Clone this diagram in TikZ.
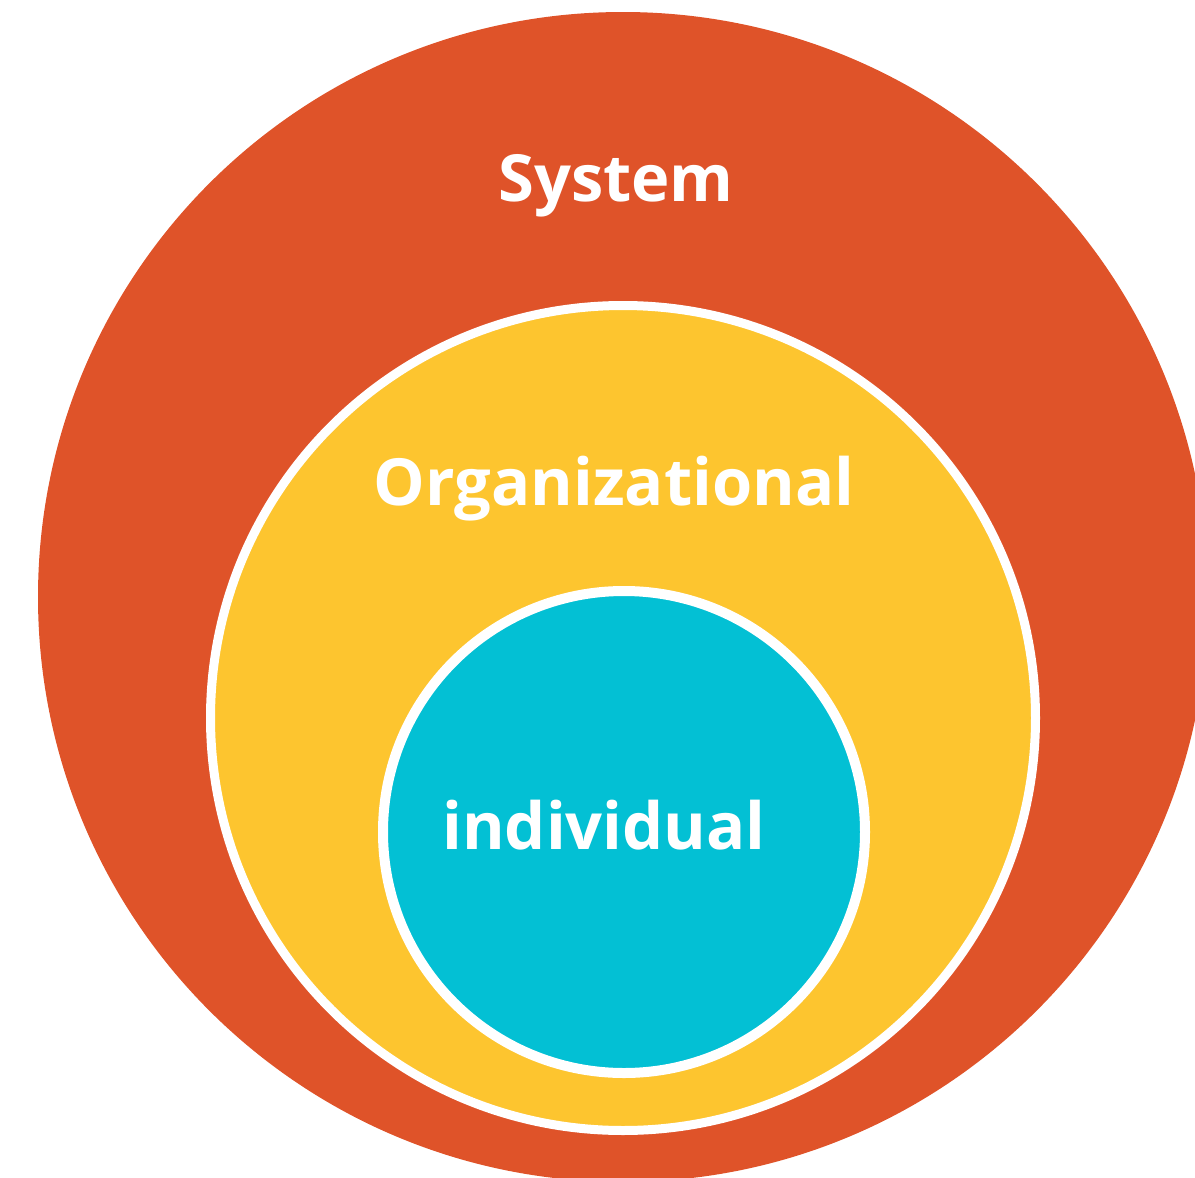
\documentclass[tikz,border=0pt]{standalone}
\usepackage{fontspec}
\setmainfont{Open Sans}
\usepackage{xcolor}
\usepackage{tikz}
\definecolor{sysorange}{RGB}{223,83,41}
\definecolor{orgyellow}{RGB}{253,197,47}
\definecolor{indblue}{RGB}{3,192,212}
\tikzset{
  level/.style={circle, inner sep=0pt, outer sep=0pt},
  levellabel/.style={text=white, inner sep=0pt, anchor=base,
    font=\bfseries\fontsize{32.5}{36}\selectfont}
}
\begin{document}
\begin{tikzpicture}[x=0.5pt, y=-0.5pt]
        \useasboundingbox (0,0) rectangle (1195,1178);
        \clip (0,0) rectangle (1195,1178);
        % nested levels
        \node[level, fill=sysorange, minimum size=585pt] (system) at (623,597) {};
        \node[level, fill=orgyellow, draw=white, line width=4.5pt, minimum size=412.5pt] (org) at (623,718) {};
        \node[level, fill=indblue, draw=white, line width=5pt, minimum size=241pt] (individual) at (624,832) {};
        % labels
        \node[levellabel] (systemtext) at (616,201) {System};
        \node[levellabel] (orgtext) at (614,505) {Organizational};
        \node[levellabel] (individualtext) at (604,849) {individual};
    \end{tikzpicture}
\end{document}
